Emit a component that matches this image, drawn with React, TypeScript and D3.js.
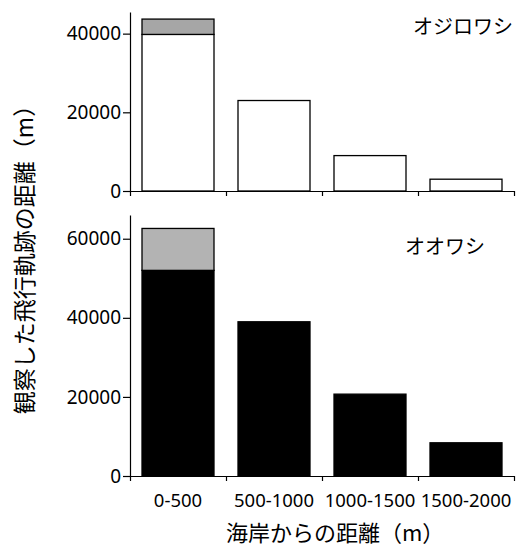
import * as d3 from 'd3';
import { useEffect, useRef } from 'react';

const categories = ['0-500', '500-1000', '1000-1500', '1500-2000'];
// オジロワシ: white base + grey top segment (first band only)
const ojiroBase = [39800, 23000, 9000, 3000];
const ojiroExtra = [3900, 0, 0, 0];
// オオワシ: black base + light grey top segment
const oowashiBase = [52000, 39000, 20700, 8400];
const oowashiExtra = [10600, 0, 0, 0];

const topTicks = [0, 20000, 40000];
const bottomTicks = [0, 20000, 40000, 60000];

const WIDTH = 516;
const HEIGHT = 546;
const FONT = '"Noto Sans", "Noto Sans CJK JP", sans-serif';
const FONT_JP = '"Noto Sans CJK JP", sans-serif';

export default function App() {
    const svgRef = useRef<SVGSVGElement | null>(null);

    useEffect(() => {
        if (!svgRef.current) return;
        const svg = d3.select(svgRef.current);
        svg.selectAll('*').remove();

        const left = 130;
        const right = 514;

        const x = d3.scaleBand().domain(categories).range([left, right]).paddingInner(0.25).paddingOuter(0.125);
        const xEdge = d3.scaleLinear().domain([0, categories.length]).range([left, right]);

        const panels = [
            {
                base: ojiroBase,
                extra: ojiroExtra,
                baseFill: '#ffffff',
                extraFill: '#a6a6a6',
                y: d3.scaleLinear().domain([0, 45500]).range([191, 12]),
                ticks: topTicks,
                label: 'オジロワシ',
                labelX: 413,
                labelY: 27,
                showX: false,
            },
            {
                base: oowashiBase,
                extra: oowashiExtra,
                baseFill: '#000000',
                extraFill: '#b3b3b3',
                y: d3.scaleLinear().domain([0, 66000]).range([476, 215]),
                ticks: bottomTicks,
                label: 'オオワシ',
                labelX: 405,
                labelY: 247,
                showX: true,
            },
        ];

        panels.forEach((p) => {
            const g = svg.append('g');
            const y = p.y;

            g.selectAll('rect.base')
                .data(categories)
                .join('rect')
                .attr('class', 'base')
                .attr('x', (c) => x(c) as number)
                .attr('width', x.bandwidth())
                .attr('y', (_c, i) => y(p.base[i]))
                .attr('height', (_c, i) => y(0) - y(p.base[i]))
                .attr('fill', p.baseFill)
                .attr('stroke', '#000')
                .attr('stroke-width', 1.3);

            g.selectAll('rect.extra')
                .data(categories.filter((_c, i) => p.extra[i] > 0))
                .join('rect')
                .attr('class', 'extra')
                .attr('x', (c) => x(c) as number)
                .attr('width', x.bandwidth())
                .attr('y', (c) => {
                    const i = categories.indexOf(c);
                    return y(p.base[i] + p.extra[i]);
                })
                .attr('height', (c) => {
                    const i = categories.indexOf(c);
                    return y(p.base[i]) - y(p.base[i] + p.extra[i]);
                })
                .attr('fill', p.extraFill)
                .attr('stroke', '#000')
                .attr('stroke-width', 1.3);

            const ya = g
                .append('g')
                .attr('transform', `translate(${left},0)`)
                .call(
                    d3
                        .axisLeft(y)
                        .tickValues(p.ticks)
                        .tickSize(7)
                        .tickSizeOuter(0)
                        .tickPadding(2)
                        .tickFormat((d) => String(d)),
                );
            ya.select('.domain').attr('stroke', '#000').attr('stroke-width', 1.2);
            ya.selectAll('line').attr('stroke-width', 1.2);
            ya.selectAll('text').attr('font-family', FONT).attr('font-size', 19).attr('fill', '#000');

            const xa = g
                .append('g')
                .attr('transform', `translate(0,${y(0)})`)
                .call(
                    d3
                        .axisBottom(xEdge)
                        .tickValues(d3.range(categories.length + 1))
                        .tickSize(5)
                        .tickSizeOuter(0)
                        .tickFormat(() => ''),
                );
            xa.select('.domain').attr('stroke', '#000').attr('stroke-width', 1.2);
            xa.selectAll('line').attr('stroke-width', 1.2);

            if (p.showX) {
                g.selectAll('text.xlab')
                    .data(categories)
                    .join('text')
                    .attr('class', 'xlab')
                    .attr('x', (c) => (x(c) as number) + x.bandwidth() / 2)
                    .attr('y', y(0) + 31)
                    .attr('text-anchor', 'middle')
                    .attr('font-family', FONT)
                    .attr('font-size', 18.5)
                    .attr('fill', '#000')
                    .text((c) => c);
            }

            g.append('text')
                .attr('x', p.labelX)
                .attr('y', p.labelY)
                .attr('dy', '0.35em')
                .attr('font-family', FONT_JP)
                .attr('font-size', 20)
                .attr('fill', '#000')
                .text(p.label);
        });

        svg.append('text')
            .attr('x', 226)
            .attr('y', 541)
            .attr('font-family', FONT_JP)
            .attr('font-size', 22)
            .attr('fill', '#000')
            .text('海岸からの距離（m）');

        svg.append('text')
            .attr('transform', 'translate(25,254) rotate(-90)')
            .attr('text-anchor', 'middle')
            .attr('dy', '0.35em')
            .attr('font-family', FONT_JP)
            .attr('font-size', 23)
            .attr('fill', '#000')
            .text('観察した飛行軌跡の距離（m）');
    }, []);

    return (
        <svg
            ref={svgRef}
            width={WIDTH}
            height={HEIGHT}
            style={{ position: 'absolute', left: 0, top: 0, background: '#fff' }}
        />
    );
}
